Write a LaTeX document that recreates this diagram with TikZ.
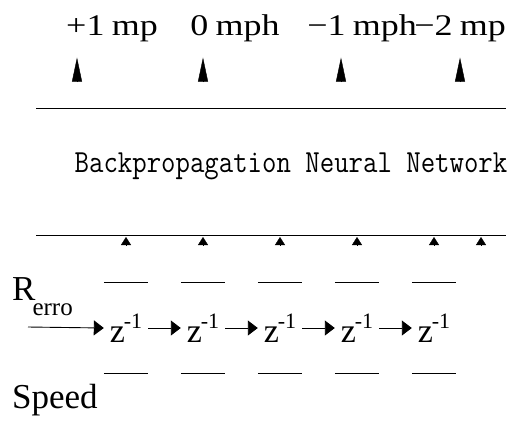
\documentclass[tikz,border=0pt]{standalone}
\usepackage{fontspec}
\setmainfont{Liberation Serif}
\usetikzlibrary{arrows.meta}

\tikzset{
  speedlbl/.style={font=\fontsize{30}{30}\selectfont, inner sep=0pt, anchor=base},
  nnlbl/.style={font=\ttfamily\fontsize{28}{28}\selectfont, inner sep=0pt, anchor=base},
  delay/.style={minimum width=44pt, minimum height=90pt, inner sep=0pt},
  bigtip/.style={-{Triangle[length=24pt,width=10pt]}, shorten >=16pt},
  smalltip/.style={-{Triangle[length=8pt,width=10pt]}},
  flow/.style={-{Triangle[length=10pt,width=15pt]}, line width=0.9pt},
  rule/.style={line width=0.9pt},
}
\newcommand{\wide}[1]{\scalebox{1.2}[1]{#1}}
\newcommand{\zinv}{{\fontsize{34}{34}\selectfont z}\kern-1pt\raisebox{14pt}{\fontsize{22}{22}\selectfont -1}}

\begin{document}
\begin{tikzpicture}[x=1pt,y=-1pt]
        \useasboundingbox (0,0) rectangle (526,421);

        % outputs
        \node[speedlbl] (p1) at (112,35) {\wide{+1\hspace{6pt}mp}};
        \node[speedlbl] (p0) at (235,35) {\wide{0\hspace{6pt}mph}};
        \node[speedlbl] (m1) at (362,35) {\wide{−1\hspace{6pt}mph}};
        \node[speedlbl] (m2) at (460,35) {\wide{−2\hspace{6pt}mp}};

        \coordinate (a1) at (77,82);
        \coordinate (a2) at (203,82);
        \coordinate (a3) at (341,82);
        \coordinate (a4) at (460,82);
        \draw[bigtip] (a1) -- (a1 |- p1.south);
        \draw[bigtip] (a2) -- (a2 |- p0.south);
        \draw[bigtip] (a3) -- (a3 |- m1.south);
        \draw[bigtip] (a4) -- (a4 |- m2.south);

        % network
        \node[nnlbl] (nn) at (291,172) {\scalebox{1}[1.15]{Backpropagation Neural Network}};
        \draw[rule] (36,108) -- (506,108);
        \draw[rule] (36,235) -- (506,235);

        % delay line
        \node[font=\fontsize{35}{35}\selectfont, inner sep=0pt, anchor=base west] (rerr) at (12,300) {R\kern-3pt\raisebox{-15pt}{\fontsize{25}{25}\selectfont erro}};
        \coordinate (in) at (28,327);
        \foreach \i/\x in {1/126,2/203,3/280,4/357,5/434}{
          \node[delay] (z\i) at (\x,328) {\raisebox{-12pt}{\zinv}};
          \draw[rule] (z\i.north west) -- (z\i.north east);
          \draw[rule] (z\i.south west) -- (z\i.south east);
          \draw[smalltip] (\x,245) -- (\x,237);
        }
        \draw[smalltip] (481,245) -- (481,237);

        \draw[flow] (in) -- (z1.west);
        \draw[flow] (z1) -- (z2);
        \draw[flow] (z2) -- (z3);
        \draw[flow] (z3) -- (z4);
        \draw[flow] (z4) -- (z5);

        \node[font=\fontsize{35}{35}\selectfont, inner sep=0pt, anchor=base west] (speed) at (12,408) {Speed};
\end{tikzpicture}
\end{document}
